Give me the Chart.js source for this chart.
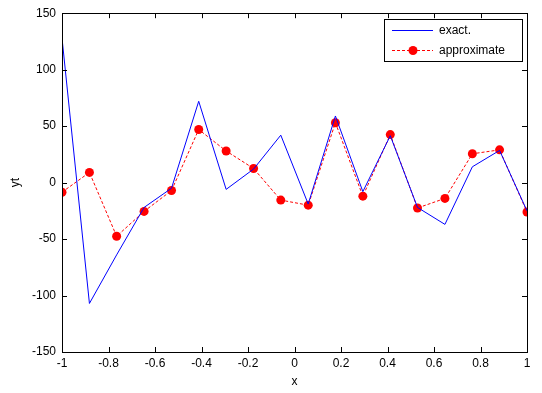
<!DOCTYPE html>
<html><head><meta charset="utf-8">
<script src="https://cdn.jsdelivr.net/npm/chart.js@4/dist/chart.umd.min.js"></script>
<style>html,body{margin:0;padding:0;background:#fff}#w{width:542px;height:393px}</style>
</head><body><div id="w"><canvas id="c"></canvas></div>
<script>
const xs = [-1, -0.882, -0.765, -0.647, -0.529, -0.412, -0.294, -0.176, -0.059, 0.059, 0.176, 0.294, 0.412, 0.529, 0.647, 0.765, 0.882, 1];
const exact = [128, -107, -64, -22, -5, 72, -6, 12, 42, -19, 59, -8, 41.5, -22, -37, 14, 28.5, -25];
const approx = [-8.5, 9, -47.5, -25.5, -7, 47, 28, 12.5, -15.5, -20, 53, -12, 42.5, -22.5, -14, 25.5, 29, -26];
const xTicks = [-1, -0.8, -0.6, -0.4, -0.2, 0, 0.2, 0.4, 0.6, 0.8, 1];
const yTicks = [-150, -100, -50, 0, 50, 100, 150];
const legendLabels = ['exact.', 'approximate'];
const FAM = '"Liberation Sans", Arial, sans-serif';
const FONT = '12px ' + FAM;

const frame = {
  id: 'frame',
  afterDatasetsDraw(chart) {
    const {ctx, chartArea: a, scales: {x, y}} = chart;
    ctx.save();
    ctx.strokeStyle = '#000'; ctx.lineWidth = 1;
    ctx.strokeRect(Math.round(a.left) + 0.5, Math.round(a.top) + 0.5, Math.round(a.right - a.left), Math.round(a.bottom - a.top));
    ctx.beginPath();
    xTicks.forEach(v => { const p = Math.round(x.getPixelForValue(v)) + 0.5;
      ctx.moveTo(p, a.bottom); ctx.lineTo(p, a.bottom - 5); ctx.moveTo(p, a.top); ctx.lineTo(p, a.top + 5); });
    yTicks.forEach(v => { const p = Math.round(y.getPixelForValue(v)) + 0.5;
      ctx.moveTo(a.left, p); ctx.lineTo(a.left + 5, p); ctx.moveTo(a.right, p); ctx.lineTo(a.right - 5, p); });
    ctx.stroke();
    // legend
    const lx = 384, ly = 19, lw = 138, lh = 42;
    ctx.fillStyle = '#fff'; ctx.fillRect(lx, ly, lw, lh);
    ctx.strokeStyle = '#000';
    ctx.strokeRect(lx + 0.5, ly + 0.5, lw, lh);
    ctx.font = FONT; ctx.textBaseline = 'middle';
    ctx.beginPath(); ctx.strokeStyle = '#0000ff'; ctx.moveTo(392, 30.5); ctx.lineTo(433, 30.5); ctx.stroke();
    ctx.fillStyle = '#000'; ctx.fillText(legendLabels[0], 439, 31);
    ctx.beginPath(); ctx.strokeStyle = '#ff0000'; ctx.setLineDash([3, 2]); ctx.moveTo(392, 50.5); ctx.lineTo(433, 50.5); ctx.stroke();
    ctx.setLineDash([]); ctx.fillStyle = '#ff0000'; ctx.beginPath(); ctx.arc(413, 50.5, 4.5, 0, Math.PI * 2); ctx.fill();
    ctx.fillStyle = '#000'; ctx.fillText(legendLabels[1], 439, 51);
    ctx.restore();
  }
};

new Chart(document.getElementById('c'), {
  type: 'line',
  data: {
    datasets: [
      { label: legendLabels[0], data: xs.map((v, i) => ({x: v, y: exact[i]})), borderColor: '#0000ff', borderWidth: 1, pointRadius: 0, fill: false, tension: 0 },
      { label: legendLabels[1], data: xs.map((v, i) => ({x: v, y: approx[i]})), borderColor: '#ff0000', borderWidth: 1, borderDash: [3, 2], pointRadius: 4.5, pointBackgroundColor: '#ff0000', pointBorderWidth: 0, fill: false, tension: 0 }
    ]
  },
  options: {
    responsive: true, maintainAspectRatio: false, animation: false,
    layout: { padding: { left: 8, right: 15, top: 12, bottom: 0 } },
    plugins: { legend: { display: false }, tooltip: { enabled: false } },
    scales: {
      x: {
        type: 'linear', min: -1, max: 1,
        afterBuildTicks: s => { s.ticks = xTicks.map(v => ({value: v})); },
        afterFit: s => { s.height = 41; },
        grid: { display: false, drawTicks: false }, border: { display: false },
        ticks: { color: '#000', font: { family: FAM, size: 12 }, padding: 4, maxRotation: 0,
          callback: v => String(v) },
        title: { display: true, text: 'x', color: '#000', font: { family: FAM, size: 12 }, padding: { top: 0, bottom: 4 } }
      },
      y: {
        min: -150, max: 150,
        afterBuildTicks: s => { s.ticks = yTicks.map(v => ({value: v})); },
        afterFit: s => { s.width = 54; },
        grid: { display: false, drawTicks: false }, border: { display: false },
        ticks: { color: '#000', font: { family: FAM, size: 12 }, padding: 6 },
        title: { display: true, text: 'yt', color: '#000', font: { family: FAM, size: 12 }, padding: { top: 0, bottom: 0 } }
      }
    }
  },
  plugins: [frame]
});
</script></body></html>
